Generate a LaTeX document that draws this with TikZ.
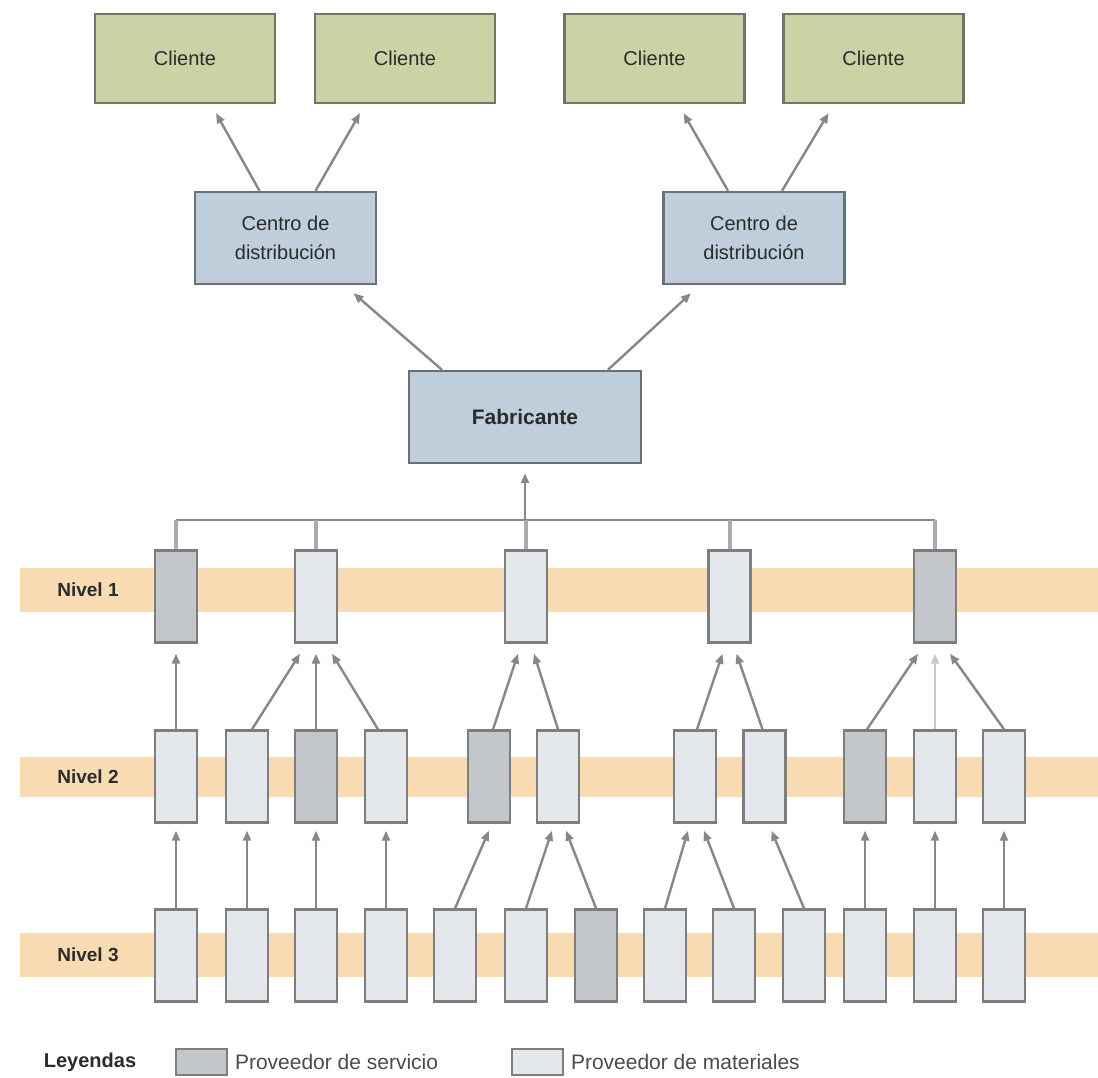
\documentclass[tikz,border=0pt]{standalone}
\usepackage{fontspec}
\setmainfont{Liberation Sans}
\usetikzlibrary{arrows.meta,positioning,calc}
\definecolor{ink}{HTML}{2B2B2B}
\definecolor{cliente}{HTML}{C9D3A6}
\definecolor{clienteline}{HTML}{6F7667}
\definecolor{dist}{HTML}{BFCEDA}
\definecolor{distline}{HTML}{66727B}
\definecolor{matfill}{HTML}{E4E7EB}
\definecolor{servfill}{HTML}{C3C7CC}
\definecolor{boxline}{HTML}{7E7E7E}
\definecolor{arrowgray}{HTML}{878787}
\definecolor{banda}{HTML}{F9DCB4}
\tikzset{
  clientbox/.style={draw=clienteline,fill=cliente,line width=2.4pt,
                    minimum width=180pt,minimum height=89pt,inner sep=0pt,
                    font=\fontsize{20}{28}\selectfont,text=ink},
  distbox/.style={draw=distline,fill=dist,line width=2.4pt,
                  minimum width=181pt,minimum height=92pt,inner sep=0pt,
                  align=center,font=\fontsize{20}{29}\selectfont,text=ink},
  provmat/.style={draw=boxline,fill=matfill,line width=2.4pt,
                  minimum width=42pt,minimum height=92pt,inner sep=0pt},
  provserv/.style={provmat,fill=servfill},
  nivel/.style={font=\fontsize{19}{22}\selectfont\bfseries,text=ink},
  leytxt/.style={font=\fontsize{21}{24}\selectfont,text=ink!85,inner sep=0pt},
  flecha/.style={-{Triangle[length=10pt,width=8pt]},line width=2.4pt,color=arrowgray},
  stub/.style={line width=4pt,color=arrowgray!70}
}
\begin{document}
\begin{tikzpicture}[x=1pt,y=-1pt]
  \useasboundingbox[fill=white] (0,0) rectangle (1098,1077);
  \fill[banda] (20,568) rectangle (1098,612);
  \fill[banda] (20,757) rectangle (1098,797);
  \fill[banda] (20,933) rectangle (1098,977);
  \node[nivel] (niv1) at (88,590) {Nivel 1};
  \node[nivel] (niv2) at (88,777) {Nivel 2};
  \node[nivel] (niv3) at (88,955) {Nivel 3};

  \node[clientbox] (cli1) at (185,58.5) {Cliente};
  \node[clientbox] (cli2) at (405,58.5) {Cliente};
  \node[clientbox] (cli3) at (654.5,58.5) {Cliente};
  \node[clientbox] (cli4) at (873.5,58.5) {Cliente};
  \node[distbox] (cdl) at (285.5,238) {Centro de\\distribución};
  \node[distbox] (cdr) at (754,238) {Centro de\\distribución};
  \node[distbox,minimum width=232pt,font=\fontsize{21}{24}\selectfont\bfseries] (fab) at (525,417) {Fabricante};

  \draw[flecha] ([xshift=-26pt]cdl.north) -- ([xshift=31pt,yshift=-9pt]cli1.south);
  \draw[flecha] ([xshift=30pt]cdl.north) -- ([xshift=-45pt,yshift=-9pt]cli2.south);
  \draw[flecha] ([xshift=-26pt]cdr.north) -- ([xshift=29pt,yshift=-9pt]cli3.south);
  \draw[flecha] ([xshift=28pt]cdr.north) -- ([xshift=-45pt,yshift=-9pt]cli4.south);
  \draw[flecha] ([xshift=-83pt]fab.north) -- ([xshift=68pt,yshift=-8pt]cdl.south);
  \draw[flecha] ([xshift=83pt]fab.north) -- ([xshift=-63pt,yshift=-8pt]cdr.south);

  \foreach \x/\t [count=\i] in {176/provserv,316/provmat,526/provmat,729.5/provmat,935/provserv}
    \node[\t] (n1-\i) at (\x,596.5) {};
  \foreach \x/\t [count=\i] in {176/provmat,247/provmat,316/provserv,386/provmat,489/provserv,
      558/provmat,695/provmat,764.5/provmat,865/provserv,935/provmat,1004/provmat}
    \node[\t] (n2-\i) at (\x,776.5) {};
  \foreach \x/\t [count=\i] in {176/provmat,247/provmat,316/provmat,386/provmat,455/provmat,526/provmat,
      596/provserv,665/provmat,734/provmat,804/provmat,865/provmat,935/provmat,1004/provmat}
    \node[\t] (n3-\i) at (\x,955.5) {};

  \coordinate (bus) at (525,520);
  \draw[line width=2.4pt,arrowgray] (n1-1.north |- bus) -- (n1-5.north |- bus);
  \foreach \i in {1,...,5}
    \draw[stub] (n1-\i.north |- bus) -- (n1-\i.north);
  \draw[flecha] (fab.south |- bus) -- ([yshift=-9pt]fab.south);

  \foreach \s/\t/\sx/\tx in {1/1/0/0,2/2/5/-16,3/2/0/0,4/2/-8/16,5/3/4/-8,6/3/0/8,
      7/4/2/-7,8/4/-2/7,9/5/2/-17,11/5/0/15}
    \draw[flecha] ([xshift=\sx pt]n2-\s.north) -- ([xshift=\tx pt,yshift=-10pt]n1-\t.south);
  \draw[flecha,color=arrowgray!45] (n2-10.north) -- ([yshift=-10pt]n1-5.south);

  \foreach \s/\t/\tx in {1/1/0,2/2/0,3/3/0,4/4/0,5/5/0,6/6/-6,7/6/8,8/7/-7,9/7/9,
      10/8/7,11/9/0,12/10/0,13/11/0}
    \draw[flecha] (n3-\s.north) -- ([xshift=\tx pt,yshift=-7pt]n2-\t.south);

  \node[nivel,font=\fontsize{20}{24}\selectfont\bfseries] (ley) at (90,1062) {Leyendas};
  \node[provserv,line width=1.6pt,minimum width=51pt,minimum height=26pt] (swserv) at (201.5,1062) {};
  \node[leytxt,right=7pt of swserv] (txserv) {Proveedor de servicio};
  \node[provmat,line width=1.6pt,minimum width=51pt,minimum height=26pt] (swmat) at (537.5,1062) {};
  \node[leytxt,right=7pt of swmat] (txmat) {Proveedor de materiales};
\end{tikzpicture}
\end{document}
